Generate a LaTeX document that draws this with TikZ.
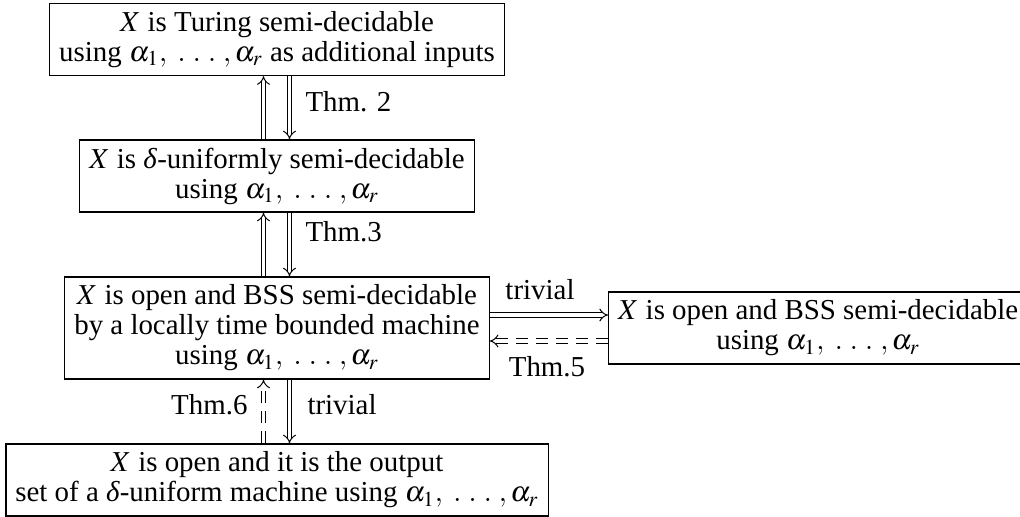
\documentclass[tikz,border=0pt]{standalone}
\usepackage{mathptmx}
\usepackage{fontspec}
\setmainfont{Liberation Serif}
\usetikzlibrary{arrows.meta}
\newcommand{\alist}{$\alpha_1,\ .\ .\ .\ ,\alpha_r$}
\newcommand{\dlt}{\textit{δ}}
\begin{document}
\begin{tikzpicture}[x=0.4pt,y=-0.4pt,
  box/.style={draw, line width=0.5pt, align=center, inner xsep=3.8pt, inner ysep=0pt, font=\fontsize{11.56}{12}\selectfont},
  two/.style={minimum height=28.8pt},
  three/.style={minimum height=40.8pt},
  imp/.style={double, double distance=1.4pt, line width=0.4pt, -{Implies}},
  dimp/.style={imp, dash pattern=on 5pt off 3pt},
  lab/.style={font=\fontsize{11.56}{12}\selectfont, inner sep=0pt}]
\useasboundingbox (0,0) rectangle (1020,516);
\clip (0,0) rectangle (1020,516);
\node[box,two] (b1) at (277,39.5) {$X$ is Turing semi-decidable\\using \alist{} as additional inputs};
\node[box,two] (b2) at (277,176) {$X$ is \dlt-uniformly semi-decidable\\using \alist};
\node[box,three] (b3) at (277,328) {$X$ is open and BSS semi-decidable\\by a locally time bounded machine\\using \alist};
\node[box,two,anchor=west] (b4) at (608,328) {$X$ is open and BSS semi-decidable\\using \alist};
\node[box,two] (b5) at (277,480) {$X$ is open and it is the output\\set of a \dlt-uniform machine using \alist};
\coordinate (ux) at (263.5,0);
\coordinate (dx) at (289.5,0);
\coordinate (ty) at (0,315);
\coordinate (dy) at (0,341);
\draw[imp] (b2.north -| ux) -- (b1.south -| ux);
\draw[imp] (b1.south -| dx) -- (b2.north -| dx);
\draw[imp] (b3.north -| ux) -- (b2.south -| ux);
\draw[imp] (b2.south -| dx) -- (b3.north -| dx);
\draw[dimp] (b5.north -| ux) -- (b3.south -| ux);
\draw[imp] (b3.south -| dx) -- (b5.north -| dx);
\draw[imp] (b3.east |- ty) -- (b4.west |- ty);
\draw[dimp] (b4.west |- dy) -- (b3.east |- dy);
\node[lab,anchor=west] (t2) at (305,102) {Thm. 2};
\node[lab,anchor=west] (t3) at (305,232) {Thm.3};
\node[lab] (tr1) at (540,290) {trivial};
\node[lab] (t5) at (547,367) {Thm.5};
\node[lab,anchor=east] (t6) at (248,405) {Thm.6};
\node[lab,anchor=west] (tr2) at (307,405) {trivial};
\end{tikzpicture}
\end{document}
